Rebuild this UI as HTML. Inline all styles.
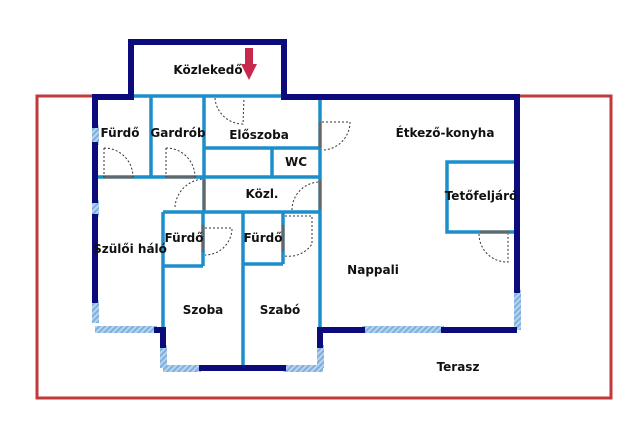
<!DOCTYPE html>
<html><head><meta charset="utf-8"><style>
html,body{margin:0;padding:0;background:#fff;}
svg{display:block}
text{font-family:"DejaVu Sans","Liberation Sans",sans-serif;font-weight:bold;font-size:12px;fill:#111;text-anchor:middle}
</style></head><body>
<svg width="640" height="428" viewBox="0 0 640 428" xmlns="http://www.w3.org/2000/svg">
<defs>
<pattern id="h" width="4" height="4" patternUnits="userSpaceOnUse" patternTransform="rotate(45)">
<rect width="4" height="4" fill="#b8d4ee"/><rect width="2" height="4" fill="#7fb0dd"/></pattern>
</defs>
<rect x="37" y="96" width="574" height="302" fill="none" stroke="#c0393b" stroke-width="3"/>
<rect x="96" y="98" width="420" height="230" fill="#fff"/>
<rect x="134" y="45" width="148" height="53" fill="#fff"/>
<g stroke="#1c8fca" stroke-width="3.5" fill="none">
<line x1="95" y1="96" x2="320" y2="96"/>
<line x1="151" y1="96" x2="151" y2="177"/>
<line x1="204" y1="96" x2="204" y2="212"/>
<line x1="320" y1="96" x2="320" y2="330"/>
<line x1="204" y1="148" x2="320" y2="148"/>
<line x1="272" y1="148" x2="272" y2="177"/>
<line x1="95" y1="177" x2="320" y2="177"/>
<line x1="163" y1="212" x2="320" y2="212"/>
<line x1="163" y1="212" x2="163" y2="368"/>
<line x1="203" y1="212" x2="203" y2="266"/>
<line x1="163" y1="266" x2="203" y2="266"/>
<line x1="243" y1="212" x2="243" y2="368"/>
<line x1="283" y1="212" x2="283" y2="264"/>
<line x1="243" y1="264" x2="283" y2="264"/>
<rect x="447" y="162" width="70" height="70"/>
</g>
<g stroke="#666" stroke-width="3">
<line x1="103" y1="177" x2="134" y2="177"/>
<line x1="166" y1="177" x2="196" y2="177"/>
<line x1="204" y1="180" x2="204" y2="210"/>
<line x1="320" y1="122" x2="320" y2="148"/>
<line x1="320" y1="180" x2="320" y2="210"/>
<line x1="203" y1="225" x2="203" y2="252"/>
<line x1="283" y1="225" x2="283" y2="252"/>
<line x1="480" y1="232" x2="510" y2="232"/>
</g>
<g stroke="#333" stroke-width="1" stroke-dasharray="2,2" fill="none">
<path d="M104 148 L104 177 M104 148 A29 29 0 0 1 133 177"/>
<path d="M166 148 L166 177 M166 148 A29 29 0 0 1 195 177"/>
<path d="M215 98 A28 28 0 0 0 243 124 L244 98"/>
<path d="M322 122 L350 122 A28 28 0 0 1 322 150"/>
<path d="M175 207 A30 30 0 0 1 204 179"/>
<path d="M292 210 A28 28 0 0 1 320 182"/>
<path d="M205 228 L232 228 A27 27 0 0 1 205 255"/>
<path d="M285 216 L312 216 L312 244 A28 28 0 0 1 285 256"/>
<path d="M479 234 A28 28 0 0 0 508 262 L508 234"/>
</g>
<g fill="url(#h)">
<rect x="92" y="125" width="7" height="20"/>
<rect x="92" y="200" width="7" height="17"/>
<rect x="92" y="300" width="7" height="23"/>
<rect x="95" y="326" width="62" height="7"/>
<rect x="160" y="345" width="7" height="23"/>
<rect x="163" y="365" width="38" height="7"/>
<rect x="283" y="365" width="40" height="7"/>
<rect x="317" y="345" width="7" height="23"/>
<rect x="362" y="326" width="82" height="7"/>
<rect x="514" y="290" width="7" height="40"/>
</g>
<g stroke="#0b0b7c" stroke-width="6" fill="none" stroke-linecap="square">
<path d="M95 97 L131 97 L131 42 L284 42 L284 97 L517 97 L517 290"/>
<line x1="95" y1="97" x2="95" y2="125"/>
<line x1="95" y1="145" x2="95" y2="200"/>
<line x1="95" y1="217" x2="95" y2="300"/>
<path d="M157 330 L163 330 L163 345"/>
<line x1="202" y1="368" x2="283" y2="368"/>
<path d="M320 345 L320 330 L362 330"/>
<line x1="444" y1="330" x2="514" y2="330"/>
</g>
<path d="M245 48 L253 48 L253 64 L257 64 L249 80 L241 64 L245 64 Z" fill="#c8284e"/>
<text x="208" y="74">Közlekedő</text>
<text x="120" y="137">Fürdő</text>
<text x="178" y="137">Gardrób</text>
<text x="259" y="139">Előszoba</text>
<text x="296" y="166">WC</text>
<text x="262" y="198">Közl.</text>
<text x="445" y="137">Étkező-konyha</text>
<text x="481" y="200">Tetőfeljáró</text>
<text x="130" y="253">Szülői háló</text>
<text x="184" y="242">Fürdő</text>
<text x="263" y="242">Fürdő</text>
<text x="203" y="314">Szoba</text>
<text x="280" y="314">Szabó</text>
<text x="373" y="274">Nappali</text>
<text x="458" y="371">Terasz</text>
</svg>
</body></html>
